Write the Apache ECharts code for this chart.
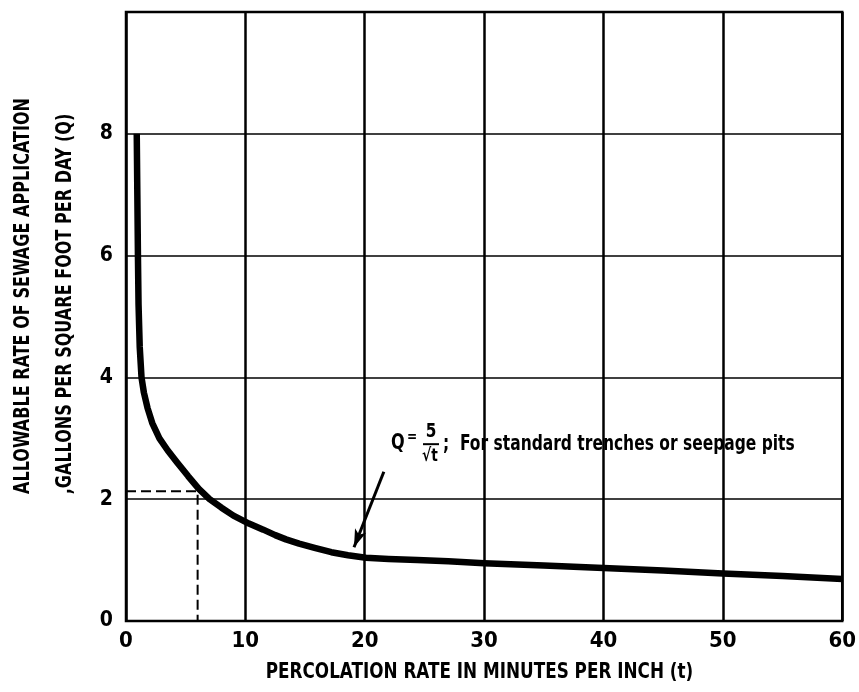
<!DOCTYPE html>
<html>
<head>
<meta charset="utf-8">
<script src="https://cdn.jsdelivr.net/npm/echarts@6/dist/echarts.min.js"></script>
<style>
html,body{margin:0;padding:0;background:#fff;}
#chart{width:859px;height:692px;}
</style>
</head>
<body>
<div id="chart"></div>
<script>
// ---- data ----
var percT = [0.9, 0.95, 1.0, 1.05, 1.15, 1.3, 1.5, 1.8, 2.2, 2.8, 3.5, 4.3, 5.2, 6.1, 7.0, 8.0, 9.0, 10.3, 11.5, 12.5, 13.4, 14.5, 15.8, 17.2, 18.6, 20.1, 22.0, 24.4, 27, 30, 35, 40, 45, 50, 55, 60];
var rateQ = [8.0, 7.0, 6.0, 5.2, 4.5, 4.0, 3.75, 3.5, 3.25, 3.0, 2.8, 2.6, 2.38, 2.17, 2.0, 1.86, 1.73, 1.6, 1.5, 1.41, 1.34, 1.27, 1.2, 1.13, 1.08, 1.04, 1.02, 1.0, 0.98, 0.95, 0.91, 0.87, 0.83, 0.78, 0.74, 0.69];
var exampleT = [0, 6, 6];
var exampleQ = [2.13, 2.13, 0];
var arrowFrom = [21.6, 2.45];
var arrowTo = [19.1, 1.21];
var xTicks = [0, 10, 20, 30, 40, 50, 60];
var yTicks = [0, 2, 4, 6, 8];
var xTitle = 'PERCOLATION RATE IN MINUTES PER INCH (t)';
var yTitle1 = 'ALLOWABLE RATE OF SEWAGE APPLICATION';
var yTitle2 = ',GALLONS PER SQUARE FOOT PER DAY (Q)';
var noteText = ';  For standard trenches or seepage pits';

var FONT = "'Liberation Sans Narrow','DejaVu Sans Condensed',sans-serif";

var chart = echarts.init(document.getElementById('chart'), null, {renderer: 'canvas'});

var curve = percT.map(function (t, i) { return [t, rateQ[i]]; });
var example = exampleT.map(function (t, i) { return [t, exampleQ[i]]; });

var option = {
  backgroundColor: '#fff',
  animation: false,
  grid: {left: 126, right: 10, top: 12, bottom: 71, show: true, borderColor: '#000', borderWidth: 2.5, backgroundColor: 'transparent'},
  xAxis: {
    type: 'value', min: 0, max: 60, interval: 10,
    axisLine: {show: false}, axisTick: {show: false},
    splitLine: {show: true, lineStyle: {color: '#000', width: 2.5}},
    axisLabel: {
      margin: 9, color: '#000', fontFamily: FONT, fontWeight: 'bold', fontSize: 22,
      formatter: function (v) { return xTicks.indexOf(v) >= 0 ? String(v) : ''; }
    }
  },
  yAxis: {
    type: 'value', min: 0, max: 10, interval: 2,
    axisLine: {show: false}, axisTick: {show: false},
    splitLine: {show: true, lineStyle: {color: '#000', width: 1.5}},
    axisLabel: {
      margin: 13, color: '#000', fontFamily: FONT, fontWeight: 'bold', fontSize: 21,
      formatter: function (v) { return yTicks.indexOf(v) >= 0 ? String(v) : ''; }
    }
  },
  series: [
    {
      type: 'line', data: curve, smooth: false, symbol: 'none',
      lineStyle: {color: '#000', width: 6.5, cap: 'butt', join: 'round'},
      markLine: {
        silent: true, symbol: ['none', 'arrow'], symbolSize: [9, 18],
        label: {show: false},
        lineStyle: {color: '#000', width: 3, type: 'solid'},
        data: [[{coord: arrowFrom}, {coord: arrowTo}]]
      },
      z: 3
    },
    {
      type: 'line', data: example, symbol: 'none',
      lineStyle: {color: '#000', width: 2, type: [10, 5]},
      z: 2
    }
  ]
};
chart.setOption(option);

// text annotations positioned from data coordinates
var pQ = chart.convertToPixel({gridIndex: 0}, [22.2, 2.92]);
var gL = 126, gR = 849, gT = 12, gB = 621;
var txt = function (x, y, s, size, extra, sx) {
  var st = {text: s, fill: '#000', font: 'bold ' + size + 'px ' + FONT, align: 'left', verticalAlign: 'middle'};
  if (extra) for (var k in extra) st[k] = extra[k];
  return {type: 'text', x: x, y: y, scaleX: sx || 1, style: st, z: 10};
};
chart.setOption({
  graphic: [
    txt(pQ[0], pQ[1], 'Q', 21, null, 0.85),
    txt(pQ[0] + 16, pQ[1] - 6, '=', 15, null, 0.9),
    txt(pQ[0] + 40, pQ[1] - 11, '5', 20, {align: 'center'}, 0.85),
    {type: 'line', shape: {x1: pQ[0] + 32, y1: pQ[1] + 1, x2: pQ[0] + 48, y2: pQ[1] + 1}, style: {stroke: '#000', lineWidth: 2}, z: 10},
    txt(pQ[0] + 39, pQ[1] + 13, '\u221At', 18, {align: 'center'}, 0.85),
    txt(pQ[0] + 52, pQ[1] + 1, noteText, 21, null, 0.82),
    {
      type: 'text', x: 24, y: 296, rotation: Math.PI / 2, scaleX: 0.85,
      style: {text: yTitle1, fill: '#000', font: 'bold 21px ' + FONT, align: 'center', verticalAlign: 'middle'}
    },
    {
      type: 'text', x: 66, y: 304, rotation: Math.PI / 2, scaleX: 0.85,
      style: {text: yTitle2, fill: '#000', font: 'bold 21px ' + FONT, align: 'center', verticalAlign: 'middle'}
    },
    {
      type: 'text', x: (gL + gR) / 2 - 8, y: 672, scaleX: 0.85,
      style: {text: xTitle, fill: '#000', font: 'bold 22px ' + FONT, align: 'center', verticalAlign: 'middle'}
    }
  ]
});
</script>
</body>
</html>
